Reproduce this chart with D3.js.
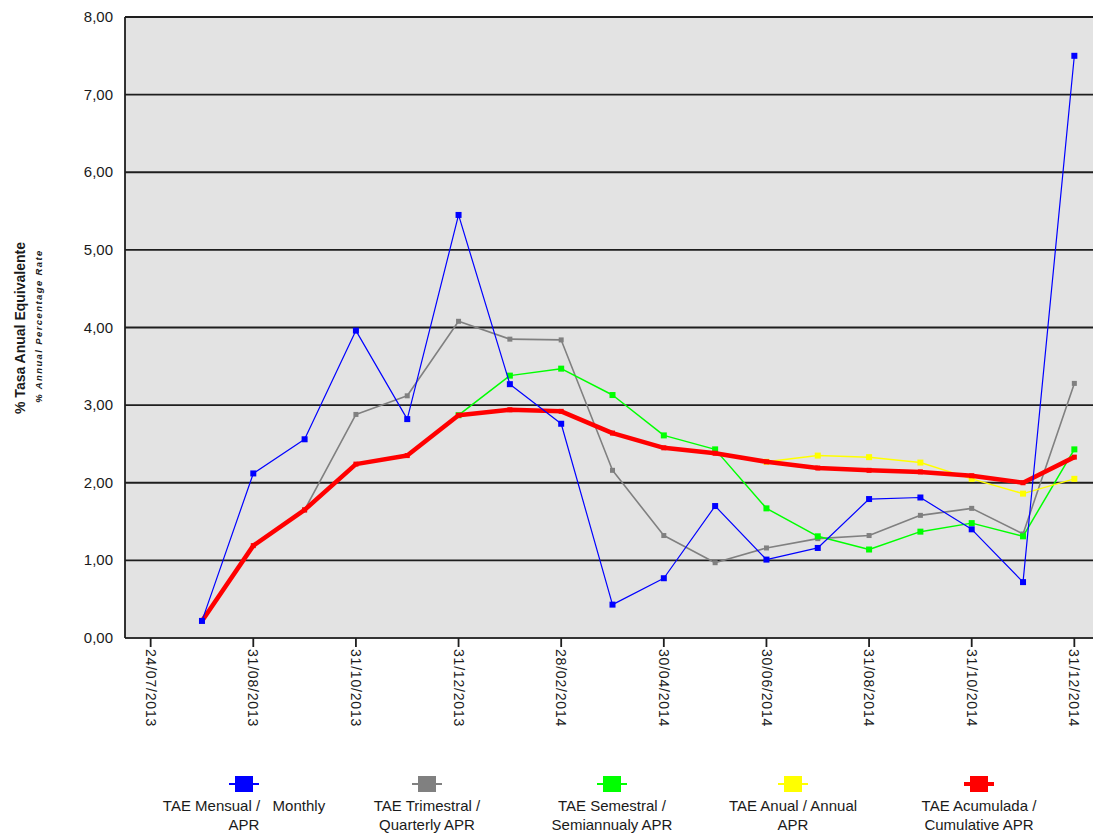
<!DOCTYPE html>
<html>
<head>
<meta charset="utf-8">
<script src="https://cdn.jsdelivr.net/npm/d3@7/dist/d3.min.js"></script>
<style>
  body { margin: 0; background: #fff; }
  text { font-family: Arial, "Liberation Sans", sans-serif; fill: #1a1a1a; }
</style>
</head>
<body>
<div id="chart"></div>
<script>
// Categories (month ends), the first one carries no data
var dates = ["24/07/2013", "31/07/2013", "31/08/2013", "30/09/2013", "31/10/2013", "30/11/2013",
    "31/12/2013", "31/01/2014", "28/02/2014", "31/03/2014", "30/04/2014", "31/05/2014",
    "30/06/2014", "31/07/2014", "31/08/2014", "30/09/2014", "31/10/2014", "30/11/2014", "31/12/2014"];

// Labelled ticks on the x axis
var tickLabels = ["24/07/2013", "31/08/2013", "31/10/2013", "31/12/2013", "28/02/2014",
    "30/04/2014", "30/06/2014", "31/08/2014", "31/10/2014", "31/12/2014"];

var yTicks = [0, 1, 2, 3, 4, 5, 6, 7, 8];

// Series values (null = no value)
var monthly = [null, 0.22, 2.12, 2.56, 3.96, 2.82, 5.45, 3.27, 2.76, 0.43, 0.77, 1.70, 1.01, 1.16, 1.79, 1.81, 1.40, 0.72, 7.50];
var quarterly = [null, null, null, 1.65, 2.88, 3.12, 4.08, 3.85, 3.84, 2.16, 1.32, 0.97, 1.16, 1.28, 1.32, 1.58, 1.67, 1.34, 3.28];
var semiannual = [null, null, null, null, null, null, 2.87, 3.38, 3.47, 3.13, 2.61, 2.43, 1.67, 1.31, 1.14, 1.37, 1.48, 1.31, 2.43];
var annual = [null, null, null, null, null, null, null, null, null, null, null, null, 2.27, 2.35, 2.33, 2.26, 2.05, 1.86, 2.05];
var cumulative = [null, 0.22, 1.19, 1.65, 2.24, 2.35, 2.87, 2.94, 2.92, 2.64, 2.45, 2.38, 2.27, 2.19, 2.16, 2.14, 2.09, 2.00, 2.33];

var seriesNames = [["TAE Mensual /   Monthly", "APR"], ["TAE Trimestral /", "Quarterly APR"],
    ["TAE Semestral /", "Semiannualy APR"], ["TAE Anual / Annual", "APR"], ["TAE Acumulada /", "Cumulative APR"]];
var seriesColors = ["#0000ff", "#808080", "#00ff00", "#ffff00", "#ff0000"];

var svgWidth = 1093;
var svgHeight = 837;

var plot = { left: 125, top: 17, right: 1100, bottom: 638 };

var svg = d3.select("#chart")
    .append("svg")
    .attr("width", svgWidth)
    .attr("height", svgHeight);

var xScale = d3.scalePoint()
    .domain(dates)
    .range([plot.left, plot.right])
    .padding(0.5);

var yScale = d3.scaleLinear()
    .domain([0, 8])
    .range([plot.bottom, plot.top]);

// plot background
svg.append("rect")
    .attr("x", plot.left)
    .attr("y", plot.top)
    .attr("width", plot.right - plot.left)
    .attr("height", plot.bottom - plot.top)
    .attr("fill", "#e3e3e3");

// horizontal grid
svg.append("g")
    .selectAll("line")
    .data(yTicks)
    .enter().append("line")
    .attr("x1", plot.left)
    .attr("x2", plot.right)
    .attr("y1", d => yScale(d))
    .attr("y2", d => yScale(d))
    .attr("stroke", d => d == 0 ? "#333" : "#1e1e1e")
    .attr("stroke-width", 1.8);

// left border
svg.append("line")
    .attr("x1", plot.left).attr("x2", plot.left)
    .attr("y1", plot.top).attr("y2", plot.bottom)
    .attr("stroke", "#1e1e1e")
    .attr("stroke-width", 1.8);

// y tick labels
svg.append("g")
    .selectAll("text")
    .data(yTicks)
    .enter().append("text")
    .attr("x", 113)
    .attr("y", d => yScale(d) + 5)
    .attr("text-anchor", "end")
    .style("font-size", "15px")
    .text(d => d3.format(".2f")(d).replace(".", ","));

// x axis ticks + rotated labels
var xTicks = svg.append("g")
    .selectAll("g")
    .data(tickLabels)
    .enter().append("g")
    .attr("transform", d => `translate(${xScale(d)}, ${plot.bottom})`);

xTicks.append("line")
    .attr("y1", 0)
    .attr("y2", 9)
    .attr("stroke", "#1e1e1e")
    .attr("stroke-width", 1.8);

xTicks.append("text")
    .attr("transform", "translate(0, 11) rotate(90)")
    .attr("dy", "0.35em")
    .attr("text-anchor", "start")
    .style("font-size", "14px")
    .style("letter-spacing", "0.8px")
    .text(d => d);

// y axis titles
svg.append("text")
    .attr("transform", "translate(25, 328) rotate(-90)")
    .attr("text-anchor", "middle")
    .style("font-size", "14px")
    .style("font-weight", "bold")
    .text("% Tasa Anual Equivalente");

svg.append("text")
    .attr("transform", "translate(42, 326) rotate(-90)")
    .attr("text-anchor", "middle")
    .style("font-size", "9.5px")
    .style("font-weight", "bold")
    .style("font-style", "italic")
    .style("letter-spacing", "1.4px")
    .text("% Annual Percentage Rate");

// series lines
var allSeries = [quarterly, semiannual, annual, cumulative, monthly];
var drawOrder = [1, 2, 3, 4, 0];
var lineWidths = [1.2, 1.6, 1.5, 1.5, 4.5];
var markerSizes = [6, 5, 6, 6, 5];

var line = d3.line()
    .defined(d => d.v != null)
    .x(d => xScale(d.date))
    .y(d => yScale(d.v));

allSeries.forEach(function (values, i) {
    var s = drawOrder[i];
    var pts = values.map((v, j) => ({ date: dates[j], v: v }));
    svg.append("path")
        .datum(pts)
        .attr("d", line)
        .attr("fill", "none")
        .attr("stroke", seriesColors[s])
        .attr("stroke-width", lineWidths[s])
        .attr("stroke-linejoin", "round");

    svg.append("g")
        .selectAll("rect")
        .data(pts.filter(d => d.v != null))
        .enter().append("rect")
        .attr("x", d => xScale(d.date) - markerSizes[s] / 2)
        .attr("y", d => yScale(d.v) - markerSizes[s] / 2)
        .attr("width", markerSizes[s])
        .attr("height", markerSizes[s])
        .attr("fill", seriesColors[s]);
});

// legend
var legendX = [244, 427, 612, 793, 979];

var legend = svg.append("g")
    .selectAll("g")
    .data(seriesNames)
    .enter().append("g")
    .attr("transform", (d, i) => `translate(${legendX[i]}, 784)`);

legend.append("line")
    .attr("x1", -15)
    .attr("x2", 15)
    .attr("stroke", (d, i) => seriesColors[i])
    .attr("stroke-width", (d, i) => i == 4 ? 4 : 2);

legend.append("rect")
    .attr("x", -9)
    .attr("y", -8)
    .attr("width", 18)
    .attr("height", 16)
    .attr("fill", (d, i) => seriesColors[i]);

legend.append("text")
    .attr("y", 27)
    .attr("text-anchor", "middle")
    .style("font-size", "15px")
    .style("white-space", "pre")
    .text(d => d[0]);

legend.append("text")
    .attr("y", 46)
    .attr("text-anchor", "middle")
    .style("font-size", "15px")
    .text(d => d[1]);
</script>
</body>
</html>
